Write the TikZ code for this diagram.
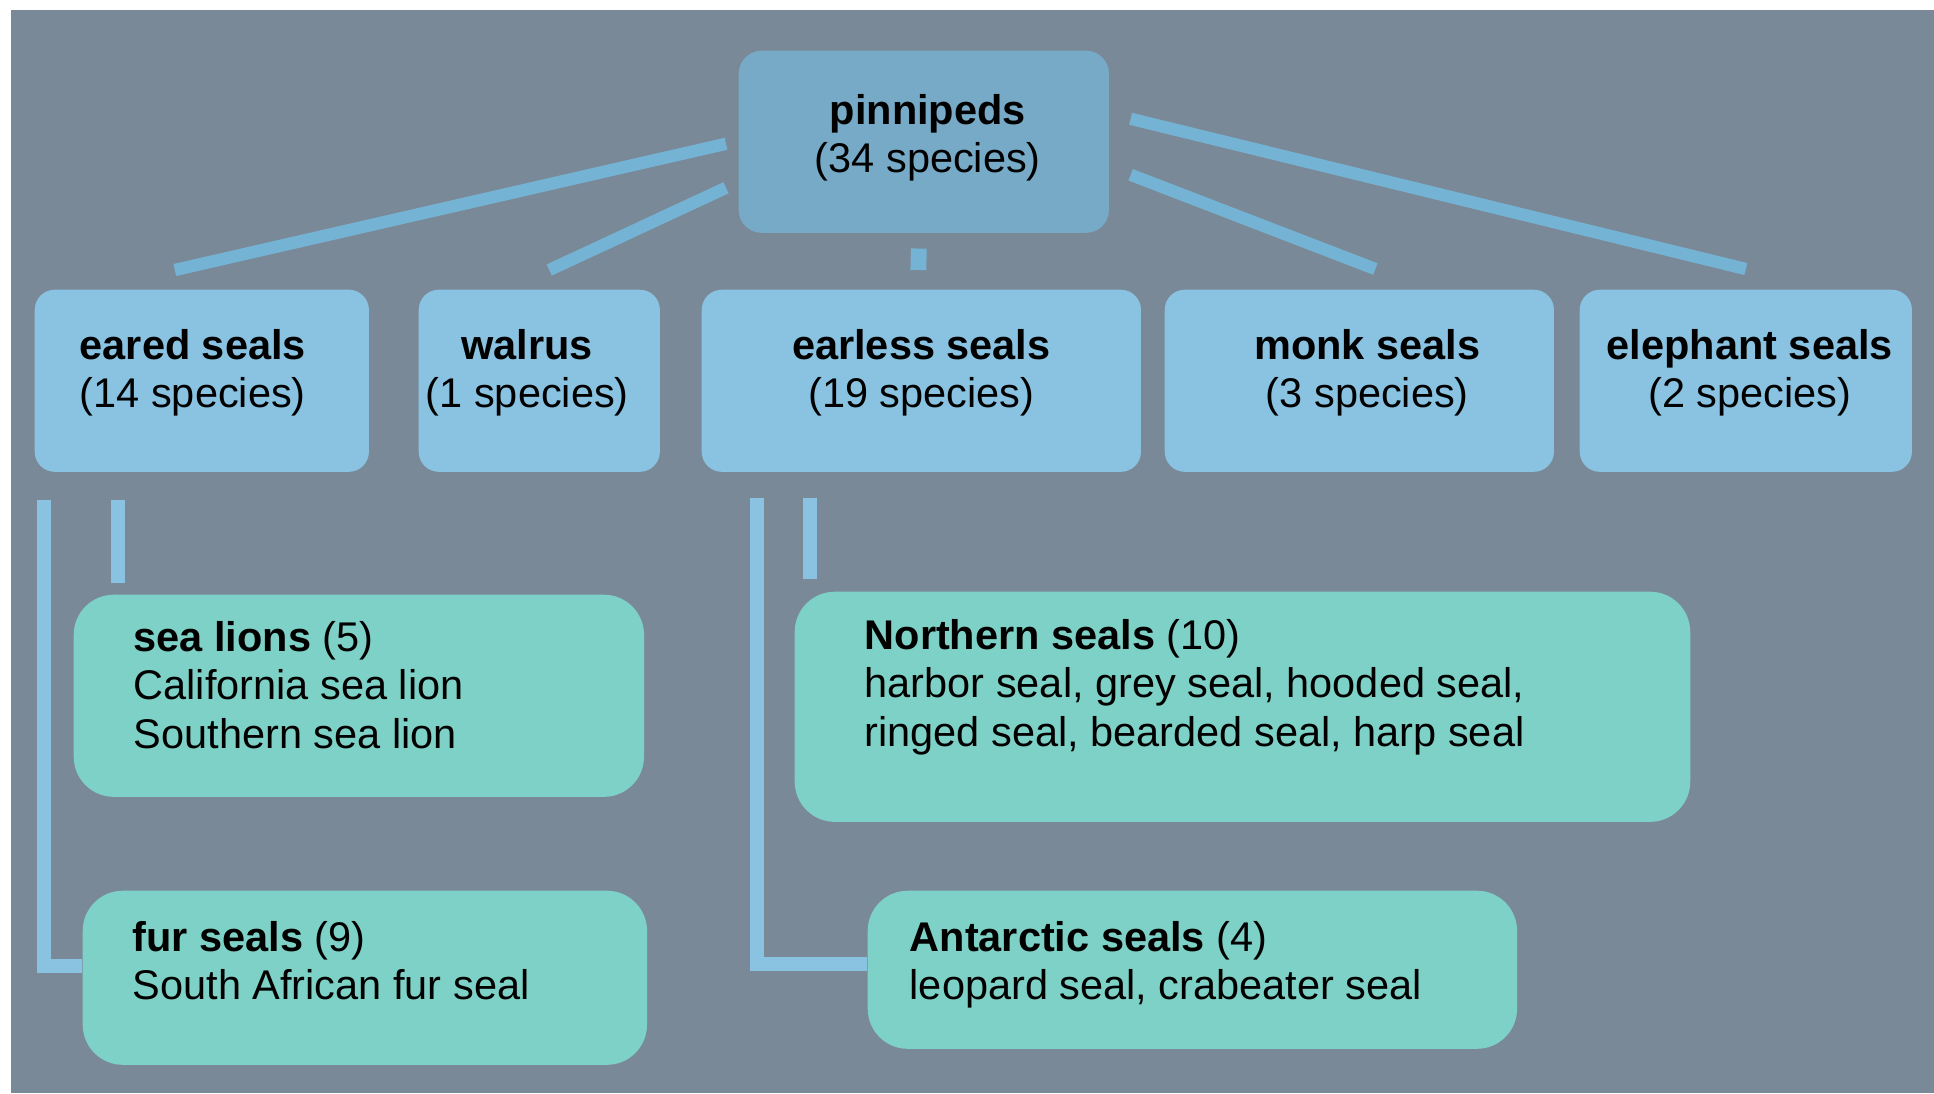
\documentclass[tikz,border=0pt]{standalone}
\usepackage{fontspec}
\setmainfont{Liberation Sans}
\definecolor{seabg}{HTML}{7A8997}
\definecolor{rootblue}{HTML}{76AAC6}
\definecolor{rootline}{HTML}{75B3D4}
\definecolor{groupblue}{HTML}{89C3E1}
\definecolor{leafgreen}{HTML}{7ED1C6}
\tikzset{
  root/.style={fill=rootblue, rounded corners=6.5pt, anchor=north west, inner sep=0pt},
  group/.style={fill=groupblue, rounded corners=5.7pt, anchor=north west, inner sep=0pt, minimum height=1.82cm},
  leaf/.style={fill=leafgreen, rounded corners=11.4pt, anchor=north west, inner sep=0pt},
  title/.style={font=\fontsize{11.8pt}{13.7pt}\selectfont, inner sep=0pt, anchor=north, align=center},
  entry/.style={font=\fontsize{11.8pt}{13.7pt}\selectfont, inner sep=0pt, anchor=north west, align=left},
  branch/.style={draw=rootline, line width=3.5pt},
  stem/.style={draw=groupblue, line width=4.1pt}
}
\begin{document}
\begin{tikzpicture}[x=0.01cm, y=-0.01cm]
  \useasboundingbox (0,0) rectangle (1934,1093);
  \fill[white] (0,0) rectangle (1934,1093);
  \fill[seabg] (11,10) rectangle (1934,1093);
  % boxes
  \node[root, minimum width=3.70cm, minimum height=1.82cm] (pinnipeds) at (738,50) {};
  \node[group, minimum width=3.34cm] (eared) at (34,289) {};
  \node[group, minimum width=2.41cm] (walrus) at (418,289) {};
  \node[group, minimum width=4.39cm] (earless) at (701,289) {};
  \node[group, minimum width=3.89cm] (monk) at (1164,289) {};
  \node[group, minimum width=3.32cm] (elephant) at (1579,289) {};
  \node[leaf, minimum width=5.70cm, minimum height=2.02cm] (sealions) at (73,594) {};
  \node[leaf, minimum width=5.64cm, minimum height=1.74cm] (furseals) at (82,890) {};
  \node[leaf, minimum width=8.95cm, minimum height=2.30cm] (northern) at (794,591) {};
  \node[leaf, minimum width=6.49cm, minimum height=1.58cm] (antarctic) at (867,890) {};
  % texts
  \node[title] (pinnipedsT) at ([shift={(4,44)}]pinnipeds.north) {\textbf{pinnipeds}\\(34 species)};
  \node[title] (earedT) at ([shift={(-9,40)}]eared.north) {\textbf{eared seals}\\(14 species)};
  \node[title] (walrusT) at ([shift={(-12,40)}]walrus.north) {\textbf{walrus}\\(1 species)};
  \node[title] (earlessT) at ([shift={(0,40)}]earless.north) {\textbf{earless seals}\\(19 species)};
  \node[title] (monkT) at ([shift={(8,40)}]monk.north) {\textbf{monk seals}\\(3 species)};
  \node[title] (elephantT) at ([shift={(4,40)}]elephant.north) {\textbf{elephant seals}\\(2 species)};
  \node[entry] (sealionsT) at ([shift={(60,27)}]sealions.north west)
    {\textbf{sea lions} (5)\\California sea lion\\Southern sea lion};
  \node[entry] (fursealsT) at ([shift={(50,31)}]furseals.north west)
    {\textbf{fur seals} (9)\\South African fur seal};
  \node[entry] (northernT) at ([shift={(70,28)}]northern.north west)
    {\textbf{Northern seals} (10)\\harbor seal, grey seal, hooded seal,\\ringed seal, bearded seal, harp seal};
  \node[entry] (antarcticT) at ([shift={(42,31)}]antarctic.north west)
    {\textbf{Antarctic seals} (4)\\leopard seal, crabeater seal};
  % connectors
  \begin{scope}[-]
    \draw[branch] ([shift={(-12,2)}]pinnipeds.west) -- ([shift={(-27,-19)}]eared.north);
    \draw[branch] ([shift={(-12,46)}]pinnipeds.west) -- ([shift={(10,-19)}]walrus.north);
    \draw[branch, line width=4.5pt] ([shift={(-5,15)}]pinnipeds.south) -- ([shift={(-3,-19)}]earless.north);
    \draw[branch] ([shift={(21,33)}]pinnipeds.east) -- ([shift={(16,-20)}]monk.north);
    \draw[branch] ([shift={(21,-23)}]pinnipeds.east) -- ([shift={(0,-20)}]elephant.north);
    \draw[stem] ([shift={(10,27)}]eared.south west) |- ([shift={(0,-12)}]furseals.west);
    \draw[stem] ([shift={(84,27)}]eared.south west) -- ([shift={(45,-11)}]sealions.north west);
    \draw[stem] ([shift={(56,25)}]earless.south west) |- ([shift={(0,-6)}]antarctic.west);
    \draw[stem] ([shift={(109,25)}]earless.south west) -- ([shift={(16,-12)}]northern.north west);
  \end{scope}
\end{tikzpicture}
\end{document}
